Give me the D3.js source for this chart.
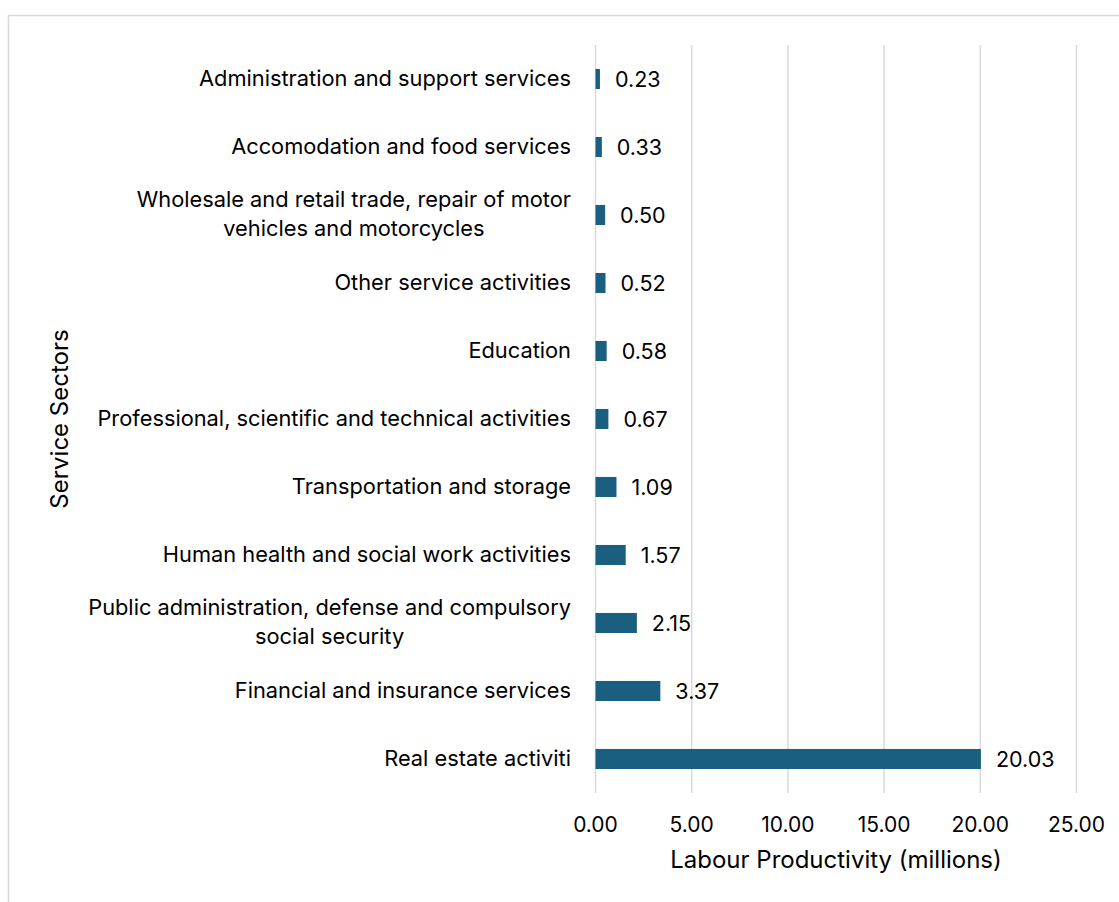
<!DOCTYPE html>
<html>
<head>
<meta charset="utf-8">
<script src="https://cdn.jsdelivr.net/npm/d3@7"></script>
<style>
  html, body { margin: 0; padding: 0; background: #fff; }
  svg { display: block; }
  text { font-family: "Inter", "Noto Sans", sans-serif; fill: #000; }
</style>
</head>
<body>
<svg id="chart" width="1119" height="902"></svg>
<script>
// Service sectors, top to bottom, with their labour productivity (millions)
const sectors = [
  ["Administration and support services"],
  ["Accomodation and food services"],
  ["Wholesale and retail trade, repair of motor", "vehicles and motorcycles"],
  ["Other service activities"],
  ["Education"],
  ["Professional, scientific and technical activities"],
  ["Transportation and storage"],
  ["Human health and social work activities"],
  ["Public administration, defense and compulsory", "social security"],
  ["Financial and insurance services"],
  ["Real estate activiti"]
];
const productivity = [0.23, 0.33, 0.50, 0.52, 0.58, 0.67, 1.09, 1.57, 2.15, 3.37, 20.03];
const xTicks = [0, 5, 10, 15, 20, 25];
const xTitle = "Labour Productivity (millions)";
const yTitle = "Service Sectors";

const svg = d3.select("#chart");
const plot = { left: 595.5, right: 1076.5, top: 45, bottom: 793 };
const catSize = 21.8, valSize = 21.5, tickSize = 21, titleSize = 24;

// Outer chart frame
svg.append("rect")
  .attr("x", 8.5).attr("y", 15.5)
  .attr("width", 1130).attr("height", 900)
  .attr("fill", "none").attr("stroke", "#d9d9d9").attr("stroke-width", 1.5);

const x = d3.scaleLinear().domain([0, 25]).range([plot.left, plot.right]);
const y = d3.scaleBand()
  .domain(d3.range(sectors.length))
  .range([plot.top, plot.bottom])
  .paddingInner(0.705).paddingOuter(0.3525);

// Vertical gridlines
svg.append("g").selectAll("line")
  .data(xTicks).join("line")
  .attr("x1", d => x(d)).attr("x2", d => x(d))
  .attr("y1", plot.top).attr("y2", plot.bottom)
  .attr("stroke", "#d9d9d9").attr("stroke-width", 1.5);

// Bars
svg.append("g").selectAll("rect")
  .data(productivity).join("rect")
  .attr("x", x(0))
  .attr("y", (d, i) => y(i))
  .attr("width", d => x(d) - x(0))
  .attr("height", y.bandwidth())
  .attr("fill", "#1a5f80");

// Value labels
svg.append("g").selectAll("text")
  .data(productivity).join("text")
  .attr("x", d => x(d) + 15)
  .attr("y", (d, i) => y(i) + y.bandwidth() / 2)
  .attr("dy", "0.35em")
  .attr("font-size", valSize)
  .text(d => d.toFixed(2));

// Category labels: right edge at the axis gap, wrapped lines centred on the first
const labelRight = 571;
const lineH = 29;
const catG = svg.append("g");
sectors.forEach((lines, i) => {
  const cy = y(i) + y.bandwidth() / 2 - 1 - (lines.length - 1) * lineH / 2;
  const first = catG.append("text")
    .attr("x", labelRight).attr("y", cy).attr("dy", "0.35em")
    .attr("text-anchor", "end").attr("font-size", catSize)
    .text(lines[0]);
  const w = first.node().getComputedTextLength();
  lines.slice(1).forEach((t, j) => {
    catG.append("text")
      .attr("x", labelRight - w / 2).attr("y", cy + (j + 1) * lineH).attr("dy", "0.35em")
      .attr("text-anchor", "middle").attr("font-size", catSize)
      .text(t);
  });
});

// X tick labels
svg.append("g").selectAll("text")
  .data(xTicks).join("text")
  .attr("x", d => x(d))
  .attr("y", 825)
  .attr("dy", "0.35em")
  .attr("text-anchor", "middle")
  .attr("font-size", tickSize)
  .text(d => d.toFixed(2));

// Axis titles
svg.append("text")
  .attr("x", (plot.left + plot.right) / 2)
  .attr("y", 860)
  .attr("dy", "0.35em")
  .attr("text-anchor", "middle")
  .attr("font-size", titleSize)
  .text(xTitle);

svg.append("text")
  .attr("transform", `translate(60, ${(plot.top + plot.bottom) / 2}) rotate(-90)`)
  .attr("dy", "0.35em")
  .attr("text-anchor", "middle")
  .attr("font-size", titleSize)
  .text(yTitle);
</script>
</body>
</html>
